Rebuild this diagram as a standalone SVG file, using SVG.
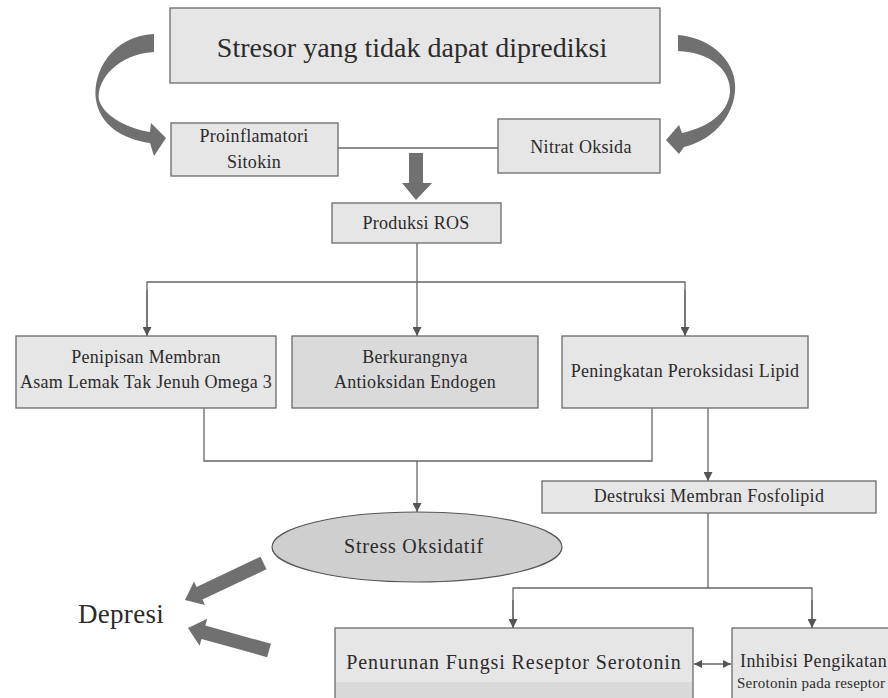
<svg xmlns="http://www.w3.org/2000/svg" width="888" height="698" viewBox="0 0 888 698">
<defs>
<style>
.box{fill:#e6e6e6;stroke:#6a6a6a;stroke-width:1.3}
.dark{fill:#dadada}
.t{font-family:"Liberation Serif","Times New Roman",serif;fill:#2b2b2b;text-anchor:middle}
.s18{font-size:18px;letter-spacing:0.3px}
.ln{fill:none;stroke:#666;stroke-width:1.3}
.blk{fill:#707070}
</style>
<marker id="ah" viewBox="0 0 10 10" refX="10" refY="5" markerWidth="9" markerHeight="9" markerUnits="userSpaceOnUse" orient="auto">
<path d="M0,0 L10,5 L0,10 Z" fill="#555"/>
</marker>
<marker id="ahs" viewBox="0 0 10 10" refX="10" refY="5" markerWidth="8" markerHeight="8" markerUnits="userSpaceOnUse" orient="auto-start-reverse">
<path d="M0,0 L10,5 L0,10 Z" fill="#555"/>
</marker>
</defs>
<rect width="888" height="698" fill="#ffffff"/>

<g id="connectors">
<line class="ln" x1="338" y1="148" x2="498" y2="148"/>
<path class="ln" d="M417,243 V336" marker-end="url(#ah)"/>
<path class="ln" d="M147,336 V282 H685 V336" />
<path class="ln" d="M147,290 V336" marker-end="url(#ah)"/>
<path class="ln" d="M685,290 V336" marker-end="url(#ah)"/>
<path class="ln" d="M204,408 V461 H652 V408"/>
<path class="ln" d="M417,461 V512" marker-end="url(#ah)"/>
<path class="ln" d="M708,408 V481" marker-end="url(#ah)"/>
<path class="ln" d="M708,513 V588 M513,628 V588 H812 V628"/>
<path class="ln" d="M513,600 V628" marker-end="url(#ah)"/>
<path class="ln" d="M812,600 V628" marker-end="url(#ah)"/>
<path class="ln" d="M694,664 H731" marker-start="url(#ahs)" marker-end="url(#ahs)"/>
<path class="blk" d="M154,34 C112,36 92,72 96,100 C100,125 122,139 150,143 L154,156 L166,138 L151,123 L150,132 C126,128 104,116 99,100 C96,80 118,54 154,52 Z"/>
<path class="blk" d="M678,35 C714,38 738,64 735,92 C732,120 710,141 684,147 L679,154 L666,140 L679,125 L682,133 C705,128 728,115 730,92 C731,70 710,52 678,51 Z"/>
<path class="blk" d="M409,153 H423 V183 H432 L416,200 L402,183 H409 Z"/>
<polygon class="blk" points="260.5,556.7 196.5,586.9 194,581.4 185,600 205,605 202.5,599.5 266.5,569.3"/>
<polygon class="blk" points="270.9,643.8 205.3,625.6 207.2,618.8 188,628 199.6,645.8 201.5,639 267.1,657.2"/>
</g>

<g id="stresor">
<rect class="box" x="170" y="8" width="490" height="75"/>
<text class="t" x="412" y="57" style="font-size:28px">Stresor yang tidak dapat diprediksi</text>
</g>
<g id="proinflamatori">
<rect class="box" x="171" y="123" width="167" height="53"/>
<text class="t s18" x="254" y="142">Proinflamatori</text>
<text class="t s18" x="254" y="168">Sitokin</text>
</g>
<g id="nitrat">
<rect class="box" x="498" y="119" width="162" height="54"/>
<text class="t s18" x="581" y="153">Nitrat Oksida</text>
</g>
<g id="ros">
<rect class="box" x="332" y="203" width="169" height="40"/>
<text class="t s18" x="416" y="229">Produksi ROS</text>
</g>
<g id="penipisan">
<rect class="box" x="16" y="336" width="260" height="72"/>
<text class="t s18" x="146" y="363">Penipisan Membran</text>
<text class="t s18" x="146" y="388">Asam Lemak Tak Jenuh Omega 3</text>
</g>
<g id="berkurangnya">
<rect class="box dark" x="292" y="336" width="246" height="72"/>
<text class="t s18" x="415" y="363">Berkurangnya</text>
<text class="t s18" x="415" y="388">Antioksidan Endogen</text>
</g>
<g id="peningkatan">
<rect class="box" x="562" y="336" width="246" height="72"/>
<text class="t s18" x="685" y="377">Peningkatan Peroksidasi Lipid</text>
</g>
<g id="destruksi">
<rect class="box" x="542" y="481" width="334" height="32"/>
<text class="t s18" x="709" y="502">Destruksi Membran Fosfolipid</text>
</g>
<g id="stress">
<ellipse cx="417" cy="547" rx="145" ry="35" fill="#cfcfcf" stroke="#555" stroke-width="1.2"/>
<text class="t" x="414" y="553" style="font-size:20px;letter-spacing:0.8px">Stress Oksidatif</text>
</g>
<g id="depresi">
<text class="t" x="121" y="623" style="font-size:27px;letter-spacing:0.3px">Depresi</text>
</g>
<g id="penurunan">
<rect class="box" x="335" y="628" width="358" height="80"/>
<rect x="336" y="682" width="356" height="16" fill="#d9d9d9"/>
<text class="t" x="514" y="669" style="font-size:20px;letter-spacing:0.9px">Penurunan Fungsi Reseptor Serotonin</text>
</g>
<g id="inhibisi">
<rect class="box" x="732" y="628" width="170" height="80"/>
<text class="t" x="740" y="667" style="font-size:18px;letter-spacing:0.4px;text-anchor:start">Inhibisi Pengikatan</text>
<text class="t" x="737" y="688" style="font-size:15px;letter-spacing:0.25px;text-anchor:start">Serotonin pada reseptor</text>
</g>
</svg>
